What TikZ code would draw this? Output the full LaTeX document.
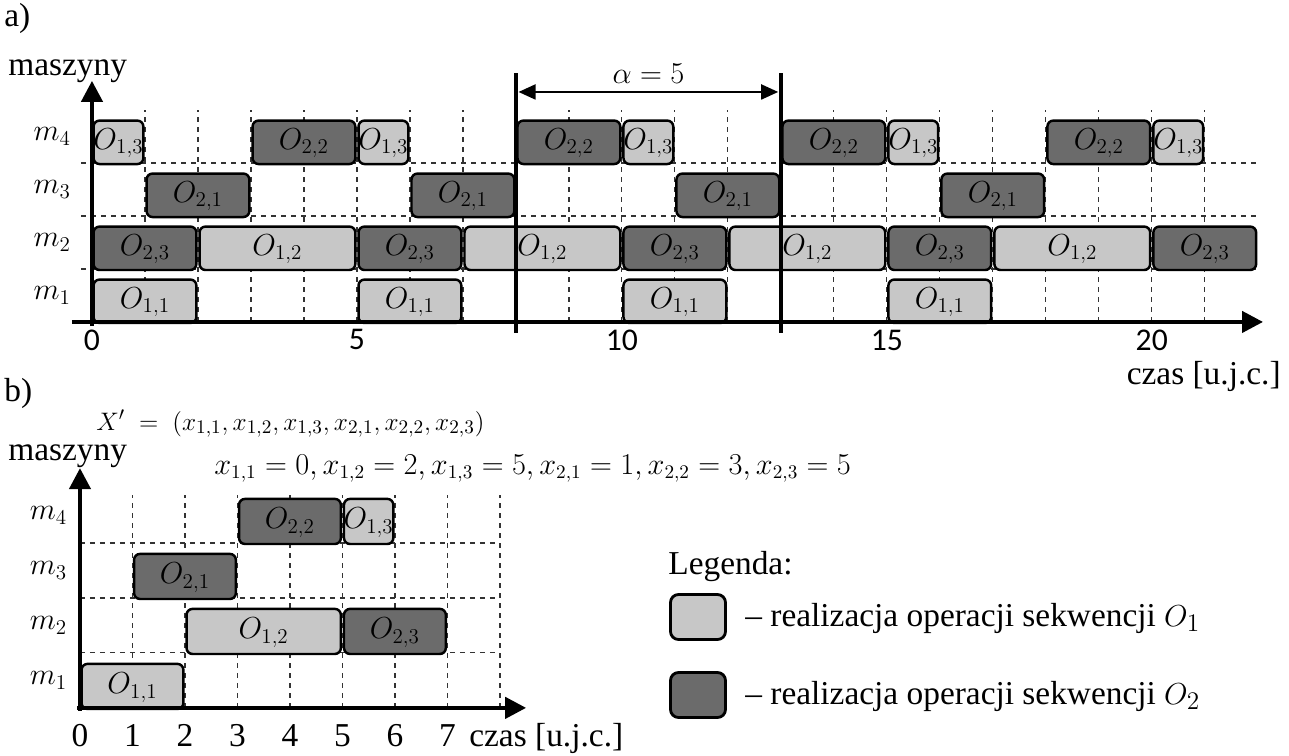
\documentclass[tikz,border=0pt]{standalone}
\usepackage{fontspec}
\setmainfont{Liberation Serif}
\newfontfamily\calib{Carlito}
\usetikzlibrary{arrows.meta}

\tikzset{
  axisln/.style={line width=2.4pt, -{Triangle[length=0.42cm,width=0.42cm]}},
  griddash/.style={line width=0.7pt, black!80, dash pattern=on 0.1cm off 0.1cm},
  opA/.style={draw=black, line width=1.4pt, rounded corners=0.12cm, fill=black!22},
  opB/.style={draw=black, line width=1.4pt, rounded corners=0.12cm, fill=black!58},
  oplbl/.style={font=\fontsize{17}{19}\selectfont, inner sep=0pt},
  txt/.style={font=\fontsize{19}{22}\selectfont, inner sep=0pt},
  mlbl/.style={font=\fontsize{18}{20}\selectfont, inner sep=0pt},
  numc/.style={font=\calib\fontsize{18}{20}\selectfont, inner sep=0pt},
  formula/.style={font=\fontsize{15}{17}\selectfont, inner sep=0pt},
  thickln/.style={line width=2.4pt},
  dimarrow/.style={line width=1.1pt, {Triangle[length=0.34cm,width=0.3cm]}-{Triangle[length=0.34cm,width=0.3cm]}},
}

\newcommand{\opblk}[6]{%
  \draw[#1] ({#2+0.03},{#4-1-0.02}) rectangle ({#3-0.03},{#4-1+0.8});
  \node[oplbl] (#6) at ({(#2+#3)/2},{#4-1+0.37}) {$O_{#5}$};
}

\begin{document}
\begin{tikzpicture}[x=0.02cm,y=-0.02cm]
\useasboundingbox (0,0) rectangle (1289,755);

% ---------- part a) ----------
\node[txt, anchor=base west] (la) at (4,26) {a)};
\node[txt, anchor=base west] (masza) at (8,75) {maszyny};

\begin{scope}[shift={(1.84cm,-6.44cm)}, x=1.06cm, y=1.06cm]
  \foreach \t in {1,...,21} \draw[griddash] (\t,0) -- (\t,4);
  \foreach \r in {1,2,3} \draw[griddash] (-0.2,\r) -- (22,\r);
  % m1
  \foreach \s [count=\i] in {0,5,10,15} {\opblk{opA}{\s}{\s+2}{1}{1,1}{aa\i}}
  % m2
  \foreach \s [count=\i] in {0,5,10,15,20} {\opblk{opB}{\s}{\s+2}{2}{2,3}{ab\i}}
  \foreach \s [count=\i] in {2,7,12,17} {\opblk{opA}{\s}{\s+3}{2}{1,2}{ac\i}}
  % m3
  \foreach \s [count=\i] in {1,6,11,16} {\opblk{opB}{\s}{\s+2}{3}{2,1}{ad\i}}
  % m4
  \foreach \s [count=\i] in {0,5,10,15,20} {\opblk{opA}{\s}{\s+1}{4}{1,3}{ae\i}}
  \foreach \s [count=\i] in {3,8,13,18} {\opblk{opB}{\s}{\s+2}{4}{2,2}{af\i}}
  % axes
  \coordinate (ay0) at (0,-0.08);
  \coordinate (ay1) at (0,4.55);
  \coordinate (ax0) at (-0.38,0);
  \coordinate (ax1) at (22.1,0);
  \draw[axisln] (ay0) -- (ay1);
  \draw[axisln] (ax0) -- (ax1);
  % period markers
  \coordinate (p8b) at (8,-0.2);  \coordinate (p8t) at (8,4.7);
  \coordinate (p13b) at (13,-0.2); \coordinate (p13t) at (13,4.7);
  \draw[thickln] (p8b) -- (p8t);
  \draw[thickln] (p13b) -- (p13t);
  \coordinate (d8) at (8.05,4.34);
  \coordinate (d13) at (12.95,4.34);
  \draw[dimarrow] (d8) -- (d13);
  \node[mlbl] (alpha) at (10.5,4.68) {$\alpha = 5$};
  % labels
  \foreach \t in {0,5,10,15,20} \node[numc] (at\t) at (\t,-0.34) {\t};
  \foreach \k in {1,2,3,4} \node[mlbl] (am\k) at (-0.75,\k-0.5) {$m_{\k}$};
\end{scope}
\node[txt, anchor=base east] (czasa) at (1281,384) {czas [u.j.c.]};

% ---------- part b) ----------
\node[txt, anchor=base west] (lb) at (4,401) {b)};
\node[formula, anchor=base west] (xvec) at (96,430) {$X' \;=\; \bigl(x_{1,1}, x_{1,2}, x_{1,3}, x_{2,1}, x_{2,2}, x_{2,3}\bigr)$};
\node[txt, anchor=base west] (maszb) at (8,460) {maszyny};
\node[formula, anchor=base west, font=\fontsize{16}{18}\selectfont] (xval) at (214,474) {$x_{1,1} = 0, x_{1,2} = 2, x_{1,3} = 5, x_{2,1} = 1, x_{2,2} = 3, x_{2,3} = 5$};

\begin{scope}[shift={(1.6cm,-14.16cm)}, x=1.05cm, y=1.1cm]
  \foreach \t in {1,...,8} \draw[griddash] (\t,0) -- (\t,3.87);
  \foreach \r in {1,2,3} \draw[griddash] (0,\r) -- (8,\r);
  \opblk{opA}{0}{2}{1}{1,1}{ba}
  \opblk{opA}{2}{5}{2}{1,2}{bb}
  \opblk{opB}{5}{7}{2}{2,3}{bc}
  \opblk{opB}{1}{3}{3}{2,1}{bd}
  \opblk{opB}{3}{5}{4}{2,2}{be}
  \opblk{opA}{5}{6}{4}{1,3}{bf}
  \coordinate (by0) at (0,-0.05);
  \coordinate (by1) at (0,4.36);
  \coordinate (bx0) at (-0.05,0);
  \coordinate (bx1) at (8.5,0);
  \draw[axisln] (by0) -- (by1);
  \draw[axisln] (bx0) -- (bx1);
  \foreach \t in {0,...,7} \node[txt] (bt\t) at (\t,-0.5) {\t};
  \foreach \k in {1,2,3,4} \node[mlbl] (bm\k) at (-0.6,\k-0.5) {$m_{\k}$};
\end{scope}
\node[txt, anchor=base west] (czasb) at (469,746) {czas [u.j.c.]};

% ---------- legend ----------
\node[txt, anchor=base west] (leg) at (668,574) {Legenda:};
\node[opA, minimum width=1.1cm, minimum height=0.9cm, line width=1.6pt, rounded corners=0.16cm] (lg1) at (698,617) {};
\node[opB, minimum width=1.1cm, minimum height=0.9cm, line width=1.6pt, rounded corners=0.16cm] (lg2) at (698,695) {};
\node[txt, anchor=base west] (lt1) at (745,626) {-- realizacja operacji sekwencji $O_1$};
\node[txt, anchor=base west] (lt2) at (745,704) {-- realizacja operacji sekwencji $O_2$};
\end{tikzpicture}
\end{document}
